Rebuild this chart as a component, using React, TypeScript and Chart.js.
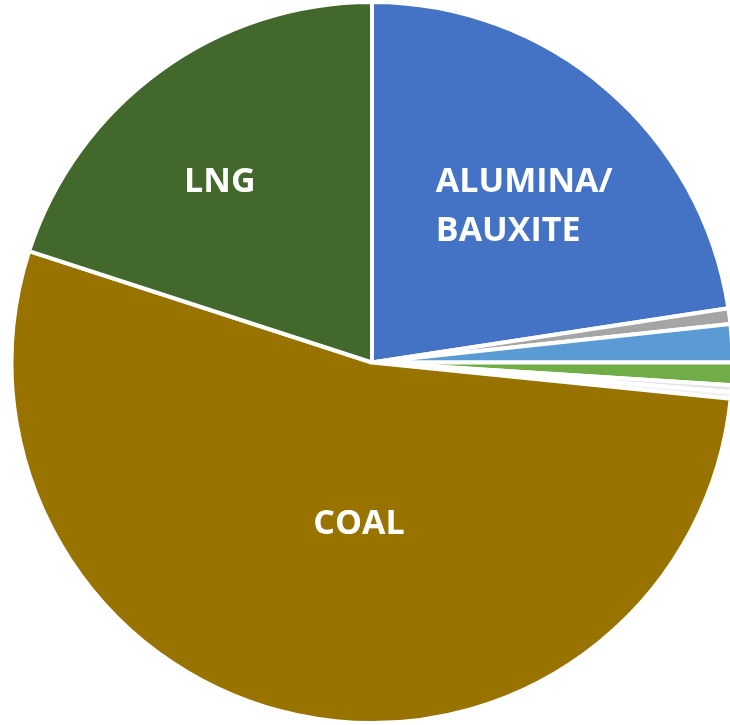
import React, { useEffect, useRef } from "react";
import { Chart, registerables } from "chart.js";

Chart.register(...registerables);

const categories = ["ALUMINA/BAUXITE", "OTHER A", "OTHER B", "OTHER C", "OTHER D", "OTHER E", "COAL", "LNG"];
const shares = [22.6, 0.7, 1.7, 1.0, 0.3, 0.3, 53.4, 20.0];
const colors = ["#4472C4", "#A5A5A5", "#5B9BD5", "#70AD47", "#E4E2EA", "#F4F2EE", "#997300", "#43682B"];
const labelLines: (string[] | null)[] = [["ALUMINA/", "BAUXITE"], null, null, null, null, null, ["COAL"], ["LNG"]];

// label placement: [radius fraction, angle shift in degrees, align]
const labelPlace: Record<number, [number, number, "left" | "center"]> = {
  0: [0.604, 3.67, "left"],
  6: [0.45, -7.3, "center"],
  7: [0.654, -4.2, "center"],
};

const FONT = "bold 34px 'Open Sans', sans-serif";
const LINE_H = 49;

const labelPlugin = {
  id: "sliceLabels",
  afterDatasetsDraw(chart: any) {
    const meta = chart.getDatasetMeta(0);
    const ctx = chart.ctx;
    ctx.save();
    ctx.font = FONT;
    ctx.fillStyle = "#FFFFFF";
    ctx.textBaseline = "middle";
    meta.data.forEach((arc: any, i: number) => {
      const lines = labelLines[i];
      const place = labelPlace[i];
      if (!lines || !place) return;
      const { x, y, startAngle, endAngle, outerRadius } = arc.getProps(
        ["x", "y", "startAngle", "endAngle", "outerRadius"],
        true
      );
      const a = (startAngle + endAngle) / 2 + (place[1] * Math.PI) / 180;
      const px = x + Math.cos(a) * outerRadius * place[0];
      const py = y + Math.sin(a) * outerRadius * place[0];
      const widths = lines.map((l) => ctx.measureText(l).width);
      const blockW = Math.max(...widths);
      const top = py - ((lines.length - 1) * LINE_H) / 2;
      lines.forEach((l, k) => {
        if (place[2] === "left") {
          ctx.textAlign = "left";
          ctx.fillText(l, px - blockW / 2, top + k * LINE_H);
        } else {
          ctx.textAlign = "center";
          ctx.fillText(l, px, top + k * LINE_H);
        }
      });
    });
    ctx.restore();
  },
};

export default function App() {
  const ref = useRef<HTMLCanvasElement | null>(null);
  useEffect(() => {
    document.body.style.margin = "0";
    const canvas = ref.current;
    if (!canvas) return;
    const chart = new Chart(canvas, {
      type: "pie",
      data: {
        labels: categories,
        datasets: [
          {
            data: shares,
            backgroundColor: colors,
            borderColor: "#FFFFFF",
            borderWidth: 4,
          },
        ],
      },
      options: {
        responsive: false,
        animation: false,
        devicePixelRatio: 1,
        layout: { padding: 0 },
        plugins: {
          legend: { display: false },
          tooltip: { enabled: false },
        },
      },
      plugins: [labelPlugin],
    });
    return () => chart.destroy();
  }, []);
  return (
    <div
      style={{
        position: "fixed",
        left: 0,
        top: 0,
        width: 730,
        height: 725,
        overflow: "hidden",
        background: "#FFFFFF",
      }}
    >
      <canvas ref={ref} width={744} height={725} style={{ display: "block", width: 744, height: 725 }} />
    </div>
  );
}
